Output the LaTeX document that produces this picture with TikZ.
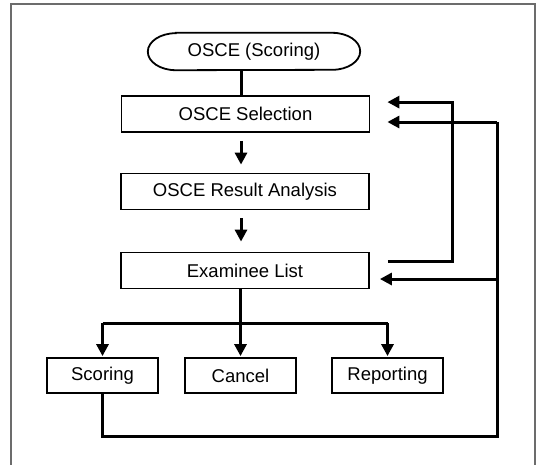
\documentclass[tikz,border=0pt]{standalone}
\usepackage{fontspec}
\setmainfont{Liberation Sans}
\usetikzlibrary{arrows.meta,calc}
\begin{document}
\begin{tikzpicture}[x=1pt,y=-1pt,
  label font/.style={font=\fontsize{18.5}{21}\selectfont},
  box/.style={draw=black,line width=1.8pt,fill=white,minimum width=248pt,minimum height=36pt,inner sep=0pt,label font},
  smallbox/.style={box,minimum width=111pt,minimum height=35pt},
  conn/.style={line width=3pt,line cap=butt,line join=miter},
  arr/.style={conn,-{Triangle[length=12pt,width=12pt]}}]
\useasboundingbox (0,0) rectangle (540,464);
\fill[white] (0,0) rectangle (540,464);
% outer frame
\draw[gray!85!black,line width=1.5pt] (11,466) -- (11,4) -- (535,4) -- (535,466);

% guide lines for the connectors
\coordinate (spine) at (241,0);
\coordinate (rail1) at (452,0);
\coordinate (rail2) at (497,0);
\coordinate (bottomrail) at (0,436);
\coordinate (branch) at (0,323);

\node[draw=none,minimum width=212pt,minimum height=37pt,inner sep=0pt,label font] (start) at (254,51.5) {OSCE (Scoring)};
\draw[line width=1.8pt] ([xshift=28pt]start.north west) -- ([xshift=-28pt]start.north east)
  arc[start angle=90,end angle=-90,x radius=28pt,y radius=18.5pt]
  -- ([xshift=28pt]start.south west)
  arc[start angle=270,end angle=90,x radius=28pt,y radius=18.5pt] -- cycle;

\node[box] (sel) at (245.5,114) {OSCE Selection};
\node[box] (ana) at (245,191.5) {OSCE Result Analysis};
\node[box] (exam) at (245,270.5) {Examinee List};

\node[smallbox] (scor) at (102.5,375.5) {Scoring};
\node[smallbox] (canc) at (240.5,375.5) {Cancel};
\node[smallbox] (repo) at (387.5,375.5) {Reporting};

% entry and exit points on the right of the boxes
\coordinate (selin1) at ([xshift=17pt,yshift=-7pt]sel.north east);
\coordinate (selin2) at ([xshift=17pt,yshift=-8pt]sel.east);
\coordinate (examout) at ([xshift=18pt,yshift=-9.5pt]exam.north east);
\coordinate (examin) at ([xshift=10pt,yshift=-8.5pt]exam.east);

% downward flow
\draw[conn] (start.south -| spine) -- (sel.north -| spine);
\draw[arr] ([yshift=-8pt]sel.south -| spine) -- ([yshift=8pt]ana.north -| spine);
\draw[arr] ([yshift=-8pt]ana.south -| spine) -- ([yshift=10pt]exam.north -| spine);
\draw[arr] (exam.south -| canc) -- ([yshift=1pt]canc.north);
\draw[arr] (branch -| scor) -- ([yshift=1pt]scor.north);
\draw[arr] (branch -| repo) -- ([yshift=1pt]repo.north);
\draw[conn] (branch -| scor) -- (branch -| repo);

% feedback loops
\draw[arr] (examout) -| (rail1 |- selin1) -- (selin1);
\draw[conn] (scor.south) -- (bottomrail -| scor) -| (rail2 |- selin2);
\draw[arr] (rail2 |- selin2) -- (selin2);
\draw[arr] (rail2 |- examin) -- (examin);
\end{tikzpicture}
\end{document}
